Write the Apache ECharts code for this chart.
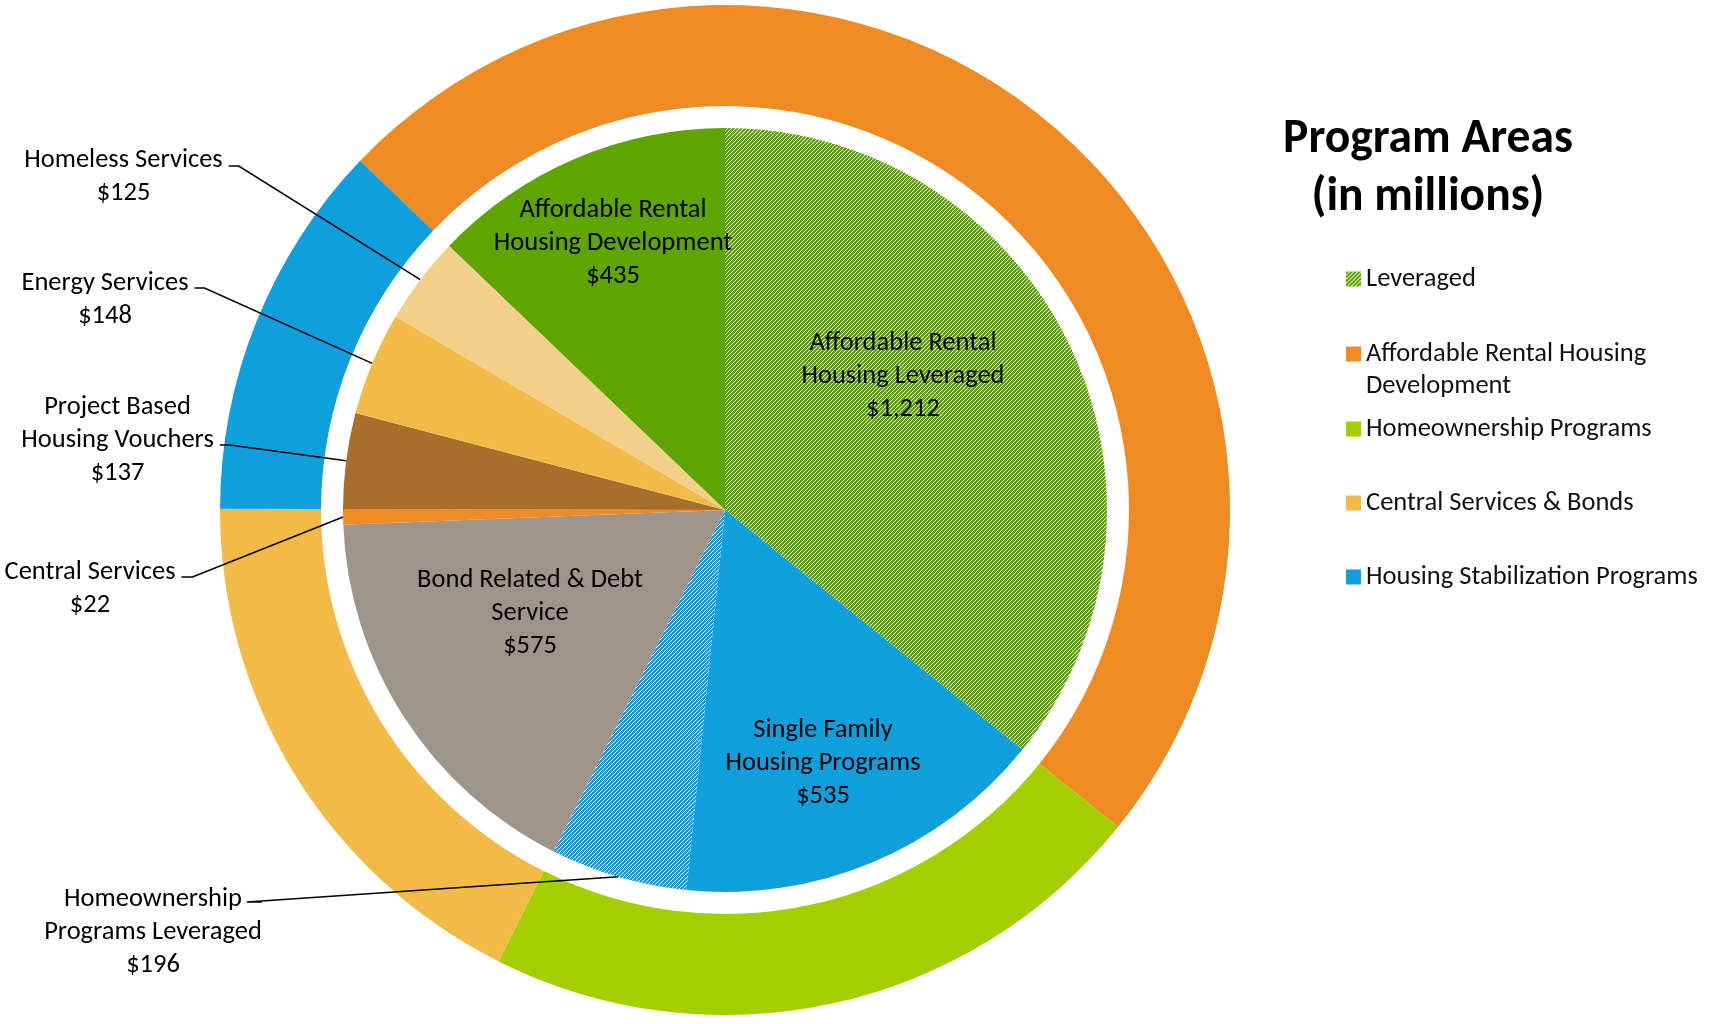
<!DOCTYPE html>
<html>
<head>
<meta charset="utf-8">
<script src="https://cdn.jsdelivr.net/npm/echarts/dist/echarts.min.js"></script>
<style>
html,body{margin:0;padding:0;background:#fff;}
#chart{width:1710px;height:1024px;}
</style>
</head>
<body>
<div id="chart"></div>
<script>
// ---------- data ----------
// inner pie, clockwise, starting with the green "Affordable Rental Housing Development" slice
const innerNames = [
  'Affordable Rental Housing Development',
  'Affordable Rental Housing Leveraged',
  'Single Family Housing Programs',
  'Homeownership Programs Leveraged',
  'Bond Related & Debt Service',
  'Central Services',
  'Project Based Housing Vouchers',
  'Energy Services',
  'Homeless Services'
];
const innerLabelText = [
  'Affordable Rental\nHousing Development',
  'Affordable Rental\nHousing Leveraged',
  'Single Family\nHousing Programs',
  'Homeownership\nPrograms Leveraged',
  'Bond Related & Debt\nService',
  'Central Services',
  'Project Based\nHousing Vouchers',
  'Energy Services',
  'Homeless Services'
];
const innerValues = [435, 1212, 535, 196, 575, 22, 137, 148, 125];

// outer ring: program areas (same starting angle as the inner pie)
const outerNames = [
  'Affordable Rental Housing Development',
  'Homeownership Programs',
  'Central Services & Bonds',
  'Housing Stabilization Programs',
  'Leveraged'
];
const outerValues = [1647, 731, 597, 410, 0];

const legendText = {
  'Affordable Rental Housing Development': 'Affordable Rental Housing\nDevelopment'
};

// ---------- styles ----------
const FONT = 'Carlito, Calibri, "Open Sans", sans-serif';
const FS = 26.5;
function hatch(color) {
  const c = document.createElement('canvas');
  c.width = 8; c.height = 8;
  const ctx = c.getContext('2d');
  ctx.fillStyle = color; ctx.fillRect(0, 0, 8, 8);
  ctx.fillStyle = '#ffffff';
  for (let y = 0; y < 8; y++) {
    for (let x = 0; x < 8; x++) {
      if ((x + y) % 4 === 3) ctx.fillRect(x, y, 1, 1);
    }
  }
  return { image: c, repeat: 'repeat' };
}
const GREEN_DARK = '#5EA500';
const BLUE = '#0F9FDC';
const innerColors = [GREEN_DARK, hatch(GREEN_DARK), BLUE, hatch(BLUE), '#9E958A', '#F08B23', '#A86E2B', '#F2BB48', '#F3D08A'];
const outerColors = ['#F08B23', '#A5CE00', '#F2BB48', BLUE, hatch(GREEN_DARK)];

// label placement (text centre x, anchor y); padding shifts the leader-line anchor
const labelSpots = {
  'Affordable Rental Housing Development': { x: 613, y: 243 },
  'Affordable Rental Housing Leveraged': { x: 903, y: 376 },
  'Single Family Housing Programs': { x: 823, y: 763 },
  'Bond Related & Debt Service': { x: 530, y: 613 },
  'Homeless Services': { x: 126.5, y: 166, pad: [21, 6, 0, 0], stub: 10 },
  'Energy Services': { x: 108, y: 288, pad: [24, 6, 0, 0], stub: 10 },
  'Project Based Housing Vouchers': { x: 120.5, y: 445, pad: [0, 6, 9, 0], stub: 10 },
  'Central Services': { x: 93, y: 577, pad: [24, 6, 0, 0], stub: 11 },
  'Homeownership Programs Leveraged': { x: 153, y: 902, pad: [60, 0, 0, 0], stub: -15 }
};

const total = innerValues.reduce((a, b) => a + b, 0);
const startAngle = 90 + innerValues[0] / total * 360;
const CENTER = [725, 510];

const innerData = innerNames.map((n, i) => {
  const spot = labelSpots[n];
  const item = { name: n, value: innerValues[i], itemStyle: { color: innerColors[i] } };
  if (spot.pad) {
    item.label = { position: 'outside', padding: spot.pad, backgroundColor: 'rgba(255,255,255,0)' };
    item.labelLine = { show: true, length: 20, length2: spot.stub };
  } else {
    item.label = { position: 'inside' };
    item.labelLine = { show: false };
  }
  return item;
});

const outerData = outerNames.map((n, i) => ({ name: n, value: outerValues[i], itemStyle: { color: outerColors[i] } }));

function legendAt(top, names, gap, extraTextStyle) {
  return {
    orient: 'vertical',
    left: 1346,
    top: top,
    padding: 0,
    icon: 'rect',
    itemWidth: 15,
    itemHeight: 15,
    itemGap: gap,
    selectedMode: false,
    formatter: name => legendText[name] || name,
    textStyle: Object.assign({ fontFamily: FONT, fontSize: FS, lineHeight: 32, color: '#111', rich: {} }, extraTextStyle || {}),
    data: names
  };
}

const chart = echarts.init(document.getElementById('chart'), null, { renderer: 'canvas' });
chart.setOption({
  animation: false,
  backgroundColor: '#ffffff',
  title: {
    text: 'Program Areas\n(in millions)',
    left: 1428,
    top: 111,
    padding: 0,
    textAlign: 'center',
    textVerticalAlign: 'top',
    textStyle: { fontFamily: FONT, fontSize: 47.5, fontWeight: 'bold', lineHeight: 58, color: '#000' }
  },
  legend: [
    legendAt(263, ['Leveraged'], 0),
    legendAt(306, ['Affordable Rental Housing Development'], 0, { padding: [32, 0, 0, 0] }),
    legendAt(413, ['Homeownership Programs', 'Central Services & Bonds', 'Housing Stabilization Programs'], 42)
  ],
  series: [
    {
      type: 'pie',
      name: 'Program Areas',
      z: 2,
      center: CENTER,
      radius: [404, 505],
      startAngle: startAngle,
      clockwise: true,
      silent: true,
      avoidLabelOverlap: false,
      label: { show: false },
      labelLine: { show: false },
      itemStyle: { borderWidth: 0 },
      data: outerData
    },
    {
      type: 'pie',
      name: 'Programs',
      z: 3,
      center: CENTER,
      radius: [0, 382],
      startAngle: startAngle,
      clockwise: true,
      silent: true,
      avoidLabelOverlap: false,
      itemStyle: { borderWidth: 0 },
      label: {
        show: true,
        fontFamily: FONT,
        fontSize: FS,
        lineHeight: 33,
        color: '#000',
        rich: {},
        formatter: p => innerLabelText[p.dataIndex] + '\n$' + p.value.toLocaleString('en-US')
      },
      labelLine: { lineStyle: { color: '#000', width: 1.6 }, minTurnAngle: 0 },
      labelLayout: p => {
        const s = labelSpots[innerNames[p.dataIndex]];
        return { x: s.x, y: s.y, align: 'center', verticalAlign: 'middle' };
      },
      data: innerData
    }
  ]
});
</script>
</body>
</html>
